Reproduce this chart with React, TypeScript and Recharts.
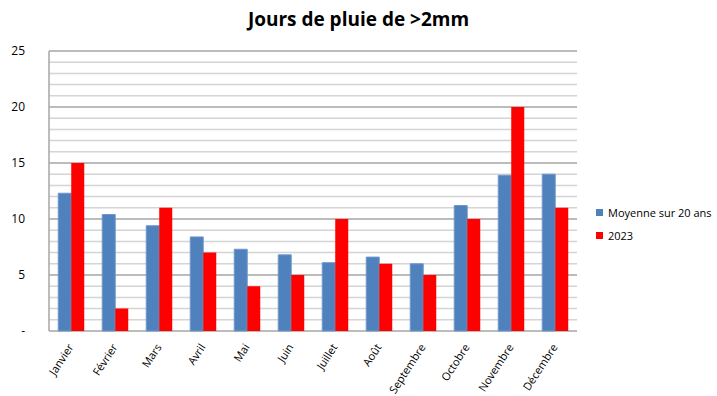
import { BarChart, Bar, XAxis, YAxis, ReferenceLine } from "recharts";

const MONTHS = [
  "Janvier",
  "Février",
  "Mars",
  "Avril",
  "Mai",
  "Juin",
  "Juillet",
  "Août",
  "Septembre",
  "Octobre",
  "Novembre",
  "Décembre",
];

const MOYENNE = [12.3, 10.4, 9.4, 8.4, 7.3, 6.8, 6.1, 6.6, 6.0, 11.2, 13.9, 14.0];
const Y2023 = [15, 2, 11, 7, 4, 5, 10, 6, 5, 10, 20, 11];

const MAJOR_TICKS = [0, 5, 10, 15, 20, 25];
const MINOR_TICKS = [
  1, 2, 3, 4, 6, 7, 8, 9, 11, 12, 13, 14, 16, 17, 18, 19, 21, 22, 23, 24,
];

const SERIES = [
  { key: "moyenne", name: "Moyenne sur 20 ans", color: "#4F81BD" },
  { key: "y2023", name: "2023", color: "#FF0000" },
];

const FONT = "'Open Sans', 'Noto Sans', sans-serif";

const data = MONTHS.map((month, i) => ({
  month,
  moyenne: MOYENNE[i],
  y2023: Y2023[i],
}));

function MonthTick(props: any) {
  const { x, y, payload } = props;
  return (
    <g transform={`translate(${x + 3},${y + 8})`}>
      <text
        x={0}
        y={0}
        textAnchor="end"
        transform="rotate(-57)"
        fill="#000"
        fontSize={11}
        fontFamily={FONT}
      >
        {payload.value}
      </text>
    </g>
  );
}

export default function App() {
  return (
    <div
      style={{
        position: "absolute",
        left: 0,
        top: 0,
        width: 717,
        height: 396,
        background: "#fff",
      }}
    >
      <BarChart
        width={717}
        height={396}
        data={data}
        margin={{ top: 51, right: 140, left: 0, bottom: 0 }}
        barCategoryGap="21%"
        barGap={0}
      >
        {MINOR_TICKS.map((v) => (
          <ReferenceLine
            key={`minor-${v}`}
            y={v}
            stroke="#d4d4d4"
            strokeWidth={1.5}
            zIndex={-50}
          />
        ))}
        {MAJOR_TICKS.slice(1).map((v) => (
          <ReferenceLine
            key={`major-${v}`}
            y={v}
            stroke="#a6a6a6"
            strokeWidth={1.5}
            zIndex={-40}
          />
        ))}
        <XAxis
          dataKey="month"
          interval={0}
          tickLine={false}
          axisLine={{ stroke: "#a6a6a6", strokeWidth: 1.5 }}
          tick={<MonthTick />}
          height={65}
        />
        <YAxis
          domain={[0, 25]}
          ticks={MAJOR_TICKS}
          width={49}
          tickLine={false}
          axisLine={{ stroke: "#a6a6a6", strokeWidth: 1.5 }}
          tickFormatter={(v: number) => (v === 0 ? "-" : String(v))}
          tick={{ fill: "#000", fontSize: 12, fontFamily: FONT, dx: -16 }}
        />
        {SERIES.map((s) => (
          <Bar
            key={s.key}
            dataKey={s.key}
            name={s.name}
            fill={s.color}
            stroke={s.key === "moyenne" ? "#6f98cc" : undefined}
            strokeWidth={1}
            zIndex={500}
            isAnimationActive={false}
          />
        ))}
      </BarChart>
      <div
        style={{
          position: "absolute",
          top: 6,
          left: 0,
          width: 717,
          textAlign: "center",
          fontFamily: FONT,
          fontWeight: 700,
          fontSize: 19,
          color: "#000",
        }}
      >
        Jours de pluie de &gt;2mm
      </div>
      <div
        style={{
          position: "absolute",
          left: 596,
          top: 201,
          fontFamily: FONT,
          fontSize: 11,
          color: "#000",
          whiteSpace: "nowrap",
        }}
      >
        {SERIES.map((s) => (
          <div
            key={s.key}
            style={{ display: "flex", alignItems: "center", height: 23 }}
          >
            <span
              style={{
                display: "inline-block",
                width: 7,
                height: 7,
                background: s.color,
                marginRight: 5,
              }}
            />
            {s.name}
          </div>
        ))}
      </div>
    </div>
  );
}
